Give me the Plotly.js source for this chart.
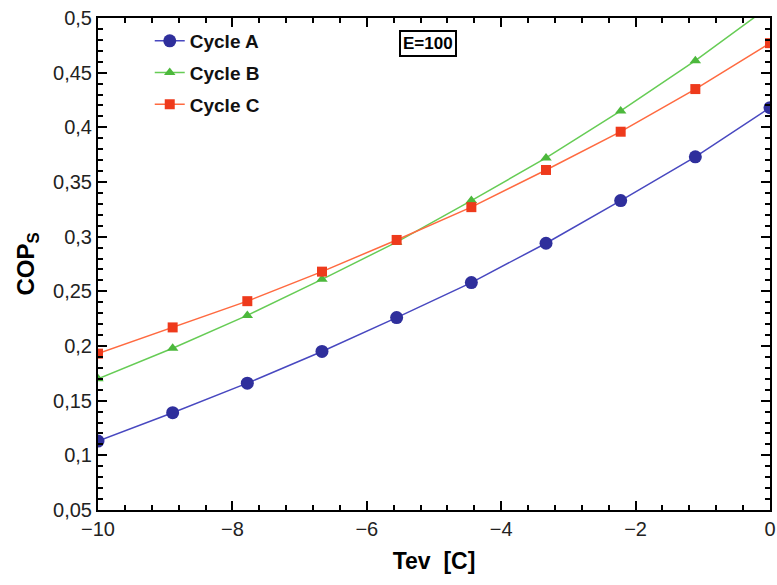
<!DOCTYPE html>
<html>
<head>
<meta charset="utf-8">
<script src="https://cdn.plot.ly/plotly-3.0.1.min.js"></script>
<style>html,body{margin:0;padding:0;background:#fff}#chart{width:777px;height:585px}</style>
</head>
<body>
<div id="chart"></div>
<script>
const tev = [-10, -8.889, -7.778, -6.667, -5.556, -4.444, -3.333, -2.222, -1.111, 0];
const cycleA = [0.113, 0.139, 0.166, 0.195, 0.226, 0.258, 0.294, 0.333, 0.373, 0.418];
const cycleB = [0.170, 0.198, 0.228, 0.261, 0.295, 0.333, 0.372, 0.415, 0.461, 0.511];
const cycleC = [0.193, 0.217, 0.241, 0.268, 0.297, 0.327, 0.361, 0.396, 0.435, 0.477];
const seriesNames = ['Cycle A', 'Cycle B', 'Cycle C'];

const font = 'Liberation Sans, Arial, sans-serif';

const traces = [
  {x: tev, y: cycleA, name: seriesNames[0], legendgroup: 'a', mode: 'lines+markers',
   line: {color: '#4848c0', width: 1.5},
   marker: {symbol: 'circle', size: 13, color: '#2f2f9c'}},
  {x: tev, y: cycleB, name: seriesNames[1], legendgroup: 'b', mode: 'lines+markers',
   line: {color: '#66cc55', width: 1.5},
   marker: {symbol: 'triangle-up', size: 10, color: '#4cb83c'}},
  {x: tev, y: cycleC, name: seriesNames[2], legendgroup: 'c', mode: 'lines+markers',
   line: {color: '#ff6a40', width: 1.5},
   marker: {symbol: 'square', size: 10, color: '#ee3a1c'}}
];

const axisCommon = {
  showgrid: false, zeroline: false, showline: true, linecolor: '#000', linewidth: 2,
  mirror: 'allticks', ticks: 'inside', ticklen: 9, tickwidth: 2, tickcolor: '#000',
  tickmode: 'linear',
  tickfont: {family: font, size: 20, color: '#222'}
};

const layout = {
  width: 777, height: 585,
  margin: {l: 98, r: 7, t: 18, b: 75},
  paper_bgcolor: '#fff', plot_bgcolor: '#fff',
  separators: ',.',
  showlegend: true,
  legend: {x: 0.077, y: 0.992, xanchor: 'left', yanchor: 'top', bgcolor: 'rgba(0,0,0,0)',
           font: {family: font, size: 19, color: '#111', weight: 'bold'}, tracegroupgap: 4},
  xaxis: Object.assign({}, axisCommon, {
    range: [-10, 0], tick0: -10, dtick: 2,
    minor: {dtick: 0.4, tick0: -10, ticks: 'inside', ticklen: 5, tickwidth: 2, tickcolor: '#000'},
    title: {text: '<b>Tev  [C]</b>', font: {family: font, size: 23, color: '#000'}, standoff: 14}
  }),
  yaxis: Object.assign({}, axisCommon, {
    range: [0.05, 0.5], tick0: 0.05, dtick: 0.05,
    minor: {dtick: 0.01, tick0: 0.05, ticks: 'inside', ticklen: 5, tickwidth: 2, tickcolor: '#000'},
    title: {text: '<b>COP<sub>S</sub></b>', font: {family: font, size: 24, color: '#000'}, standoff: 12}
  }),
  annotations: [{
    xref: 'paper', yref: 'paper', x: 0.491, y: 0.948, xanchor: 'center', yanchor: 'middle',
    text: '<b>E=100</b>', showarrow: false,
    font: {family: font, size: 17, color: '#000'},
    bordercolor: '#000', borderwidth: 2, borderpad: 2, bgcolor: '#fff'
  }]
};

Plotly.newPlot('chart', traces, layout, {displayModeBar: false, staticPlot: true});
</script>
</body>
</html>
